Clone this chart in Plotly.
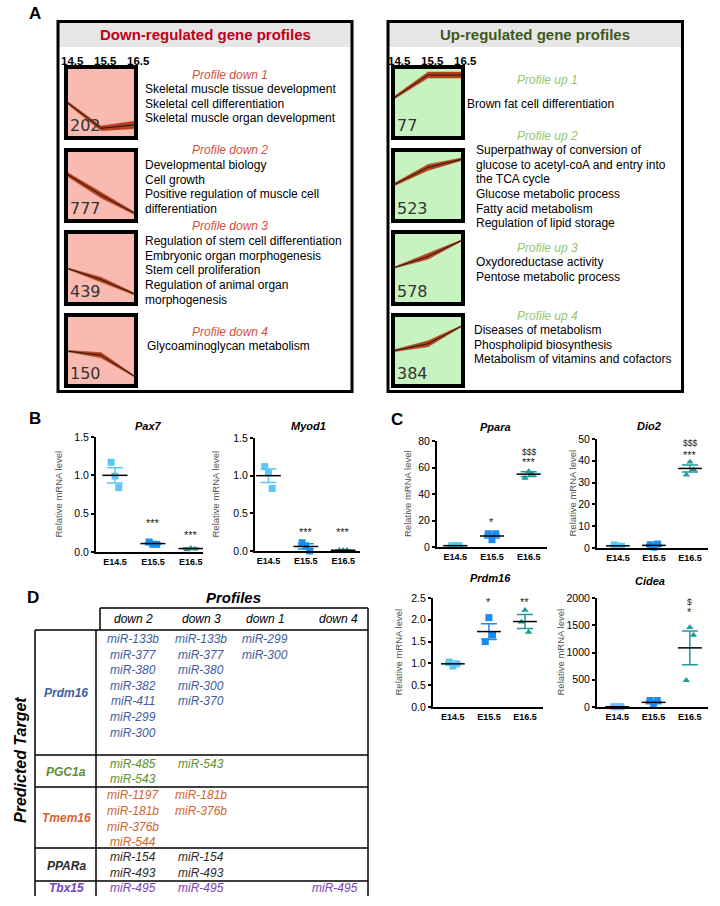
import plotly.graph_objects as go

W, H = 720, 906
FONT = "Liberation Sans, Arial, sans-serif"

# ================= DATA =================
# ---- Panel A : gene expression profiles (normalised 0..1 inside each mini plot)
time_points = [14.5, 15.5, 16.5]
time_labels = ["14.5", "15.5", "16.5"]

down_names = ["Profile down 1", "Profile down 2", "Profile down 3", "Profile down 4"]
down_counts = [202, 777, 439, 150]
down_mean_1 = [0.49, 0.115, 0.165]
down_mean_2 = [0.66, 0.36, 0.09]
down_mean_3 = [0.49, 0.33, 0.12]
down_mean_4 = [0.49, 0.43, 0.12]
down_spread_1 = [0.02, 0.035, 0.055]
down_spread_2 = [0.03, 0.045, 0.02]
down_spread_3 = [0.01, 0.035, 0.015]
down_spread_4 = [0.01, 0.04, 0.01]
down_terms_1 = ["Skeletal muscle tissue development", "Skeletal cell differentiation",
                "Skeletal muscle organ development"]
down_terms_2 = ["Developmental biology", "Cell growth", "Positive regulation of muscle cell",
                "differentiation"]
down_terms_3 = ["Regulation of stem cell differentiation", "Embryonic organ morphogenesis",
                "Stem cell proliferation", "Regulation of animal organ", "morphogenesis"]
down_terms_4 = ["Glycoaminoglycan metabolism"]

up_names = ["Profile up 1", "Profile up 2", "Profile up 3", "Profile up 4"]
up_counts = [77, 523, 578, 384]
up_mean_1 = [0.58, 0.91, 0.91]
up_mean_2 = [0.52, 0.77, 0.89]
up_mean_3 = [0.51, 0.67, 0.90]
up_mean_4 = [0.50, 0.60, 0.86]
up_spread_1 = [0.02, 0.045, 0.045]
up_spread_2 = [0.02, 0.045, 0.02]
up_spread_3 = [0.01, 0.04, 0.01]
up_spread_4 = [0.015, 0.045, 0.01]
up_terms_1 = ["Brown fat cell differentiation"]
up_terms_2 = ["Superpathway of conversion of", "glucose to acetyl-coA and entry into",
              "the TCA cycle", "Glucose metabolic process", "Fatty acid metabolism",
              "Regulation of lipid storage"]
up_terms_3 = ["Oxydoreductase activity", "Pentose metabolic process"]
up_terms_4 = ["Diseases of metabolism", "Phospholipid biosynthesis",
              "Metabolism of vitamins and cofactors"]

# ---- Panels B / C : qPCR dot plots
stages = ["E14.5", "E15.5", "E16.5"]

pax7_points = [[1.17, 0.99, 0.84], [0.13, 0.10, 0.10], [0.03, 0.05, 0.04]]
pax7_mean = [1.00, 0.11, 0.045]
pax7_sem = [0.10, 0.012, 0.006]
pax7_marks = [[], [("***", 0.38)], [("***", 0.22)]]

myod1_points = [[1.12, 1.04, 0.83], [0.11, 0.07, 0.0], [0.01, 0.01, 0.01]]
myod1_mean = [1.00, 0.06, 0.01]
myod1_sem = [0.09, 0.035, 0.002]
myod1_marks = [[], [("***", 0.25)], [("***", 0.25)]]

ppara_points = [[1.0, 1.0, 1.0], [10.0, 5.5, 10.0], [52.0, 57.0, 55.0]]
ppara_mean = [1.0, 8.3, 55.0]
ppara_sem = [0.1, 1.5, 1.8]
ppara_marks = [[], [("*", 19)], [("***", 64), ("$$$", 72)]]

dio2_points = [[1.4, 0.8, 0.8], [1.5, 0.4, 1.8], [33.5, 39.5, 36.0]]
dio2_mean = [1.0, 1.2, 36.5]
dio2_sem = [0.2, 0.4, 1.6]
dio2_marks = [[], [], [("***", 42.5), ("$$$", 48.2)]]

prdm16_points = [[1.03, 0.94, 0.99], [1.50, 2.05, 1.65], [1.95, 2.22, 1.72]]
prdm16_mean = [0.99, 1.73, 1.96]
prdm16_sem = [0.03, 0.18, 0.16]
prdm16_marks = [[], [("*", 2.41)], [("**", 2.41)]]

cidea_points = [[5, 5, 5], [120, 30, 120], [490, 1460, 1320]]
cidea_mean = [5, 85, 1085]
cidea_sem = [1, 25, 310]
cidea_marks = [[], [], [("*", 1745), ("$", 1930)]]

# ---- Panel D : predicted targets table
table_columns = ["down 2", "down 3", "down 1", "down 4"]
table_targets = ["Prdm16", "PGC1a", "Tmem16", "PPARa", "Tbx15"]
mirs_prdm16 = [["miR-133b", "miR-377", "miR-380", "miR-382", "miR-411", "miR-299", "miR-300"],
               ["miR-133b", "miR-377", "miR-380", "miR-300", "miR-370"],
               ["miR-299", "miR-300"], []]
mirs_pgc1a = [["miR-485", "miR-543"], ["miR-543"], [], []]
mirs_tmem16 = [["miR-1197", "miR-181b", "miR-376b", "miR-544"], ["miR-181b", "miR-376b"], [], []]
mirs_ppara = [["miR-154", "miR-493"], ["miR-154", "miR-493"], [], []]
mirs_tbx15 = [["miR-495"], ["miR-495"], [], ["miR-495"]]

# ================= STYLE / LAYOUT =================
DOWN_TITLE_COLOR = "#c0001c"
UP_TITLE_COLOR = "#3d5a21"
DOWN_PROF_COLOR = "#d4503e"
UP_PROF_COLOR = "#93c56e"
PINK = "#f9bab2"
GREEN = "#c7f3c0"
BAND = "#b5401a"
STAGE_COLORS = ["#5cc7f4", "#1a8cf0", "#1e9b98"]
STAGE_SYMBOLS = ["square", "square", "triangle-up"]
TARGET_COLORS = ["#3f5d9e", "#5e8f30", "#d6622c", "#2b2b2b", "#7a40bd"]

fig = go.Figure()


def X(x):
    return x / W


def Y(y):
    return 1 - y / H


def font(size, color="black", bold=False, italic=False, family=FONT):
    return dict(size=size, color=color, family=family,
                weight="bold" if bold else "normal",
                style="italic" if italic else "normal")


def ann(x, y, text, size=12, color="black", bold=False, italic=False,
        xanchor="center", yanchor="middle", angle=0, family=FONT):
    fig.add_annotation(x=X(x), y=Y(y), xref="paper", yref="paper", text=text,
                       showarrow=False, xanchor=xanchor, yanchor=yanchor,
                       textangle=angle, borderpad=0,
                       font=font(size, color, bold, italic, family))


def line(x0, y0, x1, y1, width=1.5, color="black"):
    fig.add_shape(type="line", xref="paper", yref="paper", x0=X(x0), y0=Y(y0),
                  x1=X(x1), y1=Y(y1), line=dict(color=color, width=width))


axis_n = [0]


def add_axes(x0, x1, ytop, ybot, xr, yr, xopts, yopts):
    axis_n[0] += 1
    n = axis_n[0]
    s = "" if n == 1 else str(n)
    xa = dict(domain=[X(x0), X(x1)], range=xr, anchor="y" + s, fixedrange=True,
              showgrid=False, zeroline=False, automargin=False)
    ya = dict(domain=[Y(ybot), Y(ytop)], range=yr, anchor="x" + s, fixedrange=True,
              showgrid=False, zeroline=False, automargin=False)
    xa.update(xopts)
    ya.update(yopts)
    fig.update_layout(**{"xaxis" + s: xa, "yaxis" + s: ya})
    return "x" + s, "y" + s


# ================= PANEL A =================
ann(35, 14, "A", size=17, bold=True)

for (bx0, bx1), title, tcol in [((58, 352), "Down-regulated gene profiles", DOWN_TITLE_COLOR),
                               ((388, 682.5), "Up-regulated gene profiles", UP_TITLE_COLOR)]:
    fig.add_shape(type="rect", xref="paper", yref="paper", x0=X(bx0), x1=X(bx1),
                  y0=Y(47), y1=Y(22), fillcolor="#e6e6e6", line_width=0, layer="below")
    fig.add_shape(type="rect", xref="paper", yref="paper", x0=X(bx0), x1=X(bx1),
                  y0=Y(391.5), y1=Y(21.5), line=dict(color="black", width=3))
    ann((bx0 + bx1) / 2, 34.5, title, size=15, color=tcol, bold=True)

box_rows = [(65, 140), (148, 223), (230, 306), (313, 388)]
BORDER = 4
LINE_STEP = 14.7

down_means = [down_mean_1, down_mean_2, down_mean_3, down_mean_4]
down_spreads = [down_spread_1, down_spread_2, down_spread_3, down_spread_4]
down_terms = [down_terms_1, down_terms_2, down_terms_3, down_terms_4]
up_means = [up_mean_1, up_mean_2, up_mean_3, up_mean_4]
up_spreads = [up_spread_1, up_spread_2, up_spread_3, up_spread_4]
up_terms = [up_terms_1, up_terms_2, up_terms_3, up_terms_4]

mini_axis_opts = dict(showline=True, linewidth=BORDER, linecolor="black", mirror=True,
                      showticklabels=False, ticks="")


def mini_plot(xo0, xo1, yo0, yo1, mean, spread, count, bg, count_x):
    xr, yr = add_axes(xo0 + BORDER, xo1 - BORDER, yo0 + BORDER, yo1 - BORDER,
                      [time_points[0], time_points[-1]], [0, 1],
                      dict(mini_axis_opts), dict(mini_axis_opts))
    fig.add_shape(type="rect", xref=xr + " domain", yref=yr + " domain", x0=0, x1=1,
                  y0=0, y1=1, fillcolor=bg, line_width=0, layer="below")
    lower = [m - s for m, s in zip(mean, spread)]
    upper = [m + s for m, s in zip(mean, spread)]
    fig.add_trace(go.Scatter(x=time_points, y=lower, mode="lines",
                             line=dict(width=0.5, color=BAND), xaxis=xr, yaxis=yr,
                             hoverinfo="skip", showlegend=False))
    fig.add_trace(go.Scatter(x=time_points, y=upper, mode="lines", fill="tonexty",
                             fillcolor=BAND, line=dict(width=0.5, color=BAND), xaxis=xr,
                             yaxis=yr, hoverinfo="skip", showlegend=False))
    fig.add_trace(go.Scatter(x=time_points, y=mean, mode="lines",
                             line=dict(width=1, color="#1a1a1a"), xaxis=xr, yaxis=yr,
                             hoverinfo="skip", showlegend=False))
    ann(count_x, yo1 - 15, str(count), size=16, color="#333333", xanchor="left",
        family="DejaVu Sans, sans-serif")


for left, right in [(64, 138), (391, 465)]:
    for i, lab in enumerate(time_labels):
        xx = left + 8 + (right - left - 8) * i / (len(time_labels) - 1)
        ann(xx, 61, lab, size=11.5, bold=True)

down_title_y = [75, 150, 226, 332]
down_term_y0 = [89, 165, 241, 346]
up_title_y = [80, 136, 248, 316]
up_term_y0 = [104, 150, 262, 330]
down_term_x = [144, 144, 144, 146]
up_term_x = [466, 475, 475, 473]

for i in range(4):
    yo0, yo1 = box_rows[i]
    mini_plot(64, 138, yo0, yo1, down_means[i], down_spreads[i], down_counts[i], PINK, 69)
    ann(230, down_title_y[i], down_names[i], size=12, color=DOWN_PROF_COLOR, italic=True)
    for k, t in enumerate(down_terms[i]):
        ann(down_term_x[i], down_term_y0[i] + k * LINE_STEP, t, size=12, xanchor="left")

    mini_plot(391, 465, yo0, yo1, up_means[i], up_spreads[i], up_counts[i], GREEN, 396)
    ann(547, up_title_y[i], up_names[i], size=12, color=UP_PROF_COLOR, italic=True)
    for k, t in enumerate(up_terms[i]):
        ann(up_term_x[i], up_term_y0[i] + k * LINE_STEP, t, size=12, xanchor="left")

# ================= PANELS B / C =================
ann(35, 418, "B", size=17, bold=True)
ann(397, 420, "C", size=17, bold=True)

JITTER = [-0.1, 0.0, 0.1]


def dot_chart(title, xl, xrt, ytop, ybot, xrange, yrange, dtick, tfmt,
              points, means, sems, marks, title_xy, ylab_x):
    xa, ya = add_axes(xl, xrt, ytop, ybot, xrange, yrange,
                      dict(showline=True, linewidth=2, linecolor="black", ticks="",
                           tickvals=list(range(len(stages))), ticktext=stages,
                           tickfont=font(9, bold=True)),
                      dict(showline=True, linewidth=2, linecolor="black", ticks="outside",
                           ticklen=3, tickwidth=1.5, tickcolor="black", dtick=dtick,
                           tick0=0, tickformat=tfmt, tickfont=font(10.5)))
    for i, pts in enumerate(points):
        fig.add_trace(go.Scatter(x=[i + j for j in JITTER[:len(pts)]], y=pts, mode="markers",
                                 marker=dict(symbol=STAGE_SYMBOLS[i], size=7 if i < 2 else 6.5,
                                             color=STAGE_COLORS[i]),
                                 cliponaxis=False, xaxis=xa, yaxis=ya, showlegend=False,
                                 hoverinfo="skip"))
    for i in range(len(stages)):
        fig.add_trace(go.Scatter(x=[i], y=[means[i]], mode="markers",
                                 marker=dict(size=1, color="rgba(0,0,0,0)"),
                                 error_y=dict(type="data", array=[sems[i]], color=STAGE_COLORS[i],
                                              thickness=1.5, width=8),
                                 cliponaxis=False, xaxis=xa, yaxis=ya, showlegend=False,
                                 hoverinfo="skip"))
    mx, my = [], []
    for i, m in enumerate(means):
        mx += [i - 0.33, i + 0.33, None]
        my += [m, m, None]
    fig.add_trace(go.Scatter(x=mx, y=my, mode="lines", line=dict(color="black", width=1.5),
                             cliponaxis=False, xaxis=xa, yaxis=ya, showlegend=False,
                             hoverinfo="skip"))
    for i, mk in enumerate(marks):
        for txt, yv in mk:
            fig.add_annotation(x=i, y=yv, xref=xa, yref=ya, text=txt, showarrow=False,
                               font=font(8.5 if "$" in txt else 11, "#222222"),
                               yanchor="middle", borderpad=0)
    ann(title_xy[0], title_xy[1], title, size=11, bold=True, italic=True)
    ann(ylab_x, (ytop + ybot) / 2, "Relative mRNA level", size=9.5, color="#555555", angle=-90)


dot_chart("Pax7", 96, 203, 437, 552, [-0.5, 2.32], [0, 1.5], 0.5, ".1f",
          pax7_points, pax7_mean, pax7_sem, pax7_marks, (148, 426), 58)
dot_chart("Myod1", 255, 360, 438, 551, [-0.36, 2.45], [0, 1.5], 0.5, ".1f",
          myod1_points, myod1_mean, myod1_sem, myod1_marks, (308, 426), 215)
dot_chart("Ppara", 437, 547, 441, 547, [-0.5, 2.5], [0, 80], 20, "d",
          ppara_points, ppara_mean, ppara_sem, ppara_marks, (495, 427), 407)
dot_chart("Dio2", 597, 708, 439, 548, [-0.58, 2.5], [0, 50], 10, "d",
          dio2_points, dio2_mean, dio2_sem, dio2_marks, (649, 426), 572)
dot_chart("Prdm16", 433, 543, 598, 707, [-0.55, 2.5], [0, 2.5], 0.5, ".1f",
          prdm16_points, prdm16_mean, prdm16_sem, prdm16_marks, (490, 578), 398)
dot_chart("Cidea", 597, 708, 598, 707, [-0.56, 2.5], [0, 2000], 500, "d",
          cidea_points, cidea_mean, cidea_sem, cidea_marks, (650, 581), 560)

# ================= PANEL D =================
ann(33, 597, "D", size=17, bold=True)
ann(233, 597, "Profiles", size=15, bold=True, italic=True)
ann(20, 760, "Predicted Target", size=16, bold=True, italic=True, angle=-90)

line(100, 608, 368, 608)
line(100, 608, 100, 630)
line(35, 630, 368, 630)
line(368, 608, 368, 896)
line(35, 630, 35, 896)
line(96, 630, 96, 896)
for yy in [755, 787, 848, 881]:
    line(35, yy, 368, yy)

col_x = [133, 201, 265, 335]
header_x = [133, 201, 265, 338]
for cx, name in zip(header_x, table_columns):
    ann(cx, 619, name, size=12, italic=True)

row_label_y = [693, 772, 818, 866, 888]
row_first_y = [639, 764, 795, 857, 888]
row_step = [15.6, 15.0, 15.8, 16.0, 15.6]
row_mirs = [mirs_prdm16, mirs_pgc1a, mirs_tmem16, mirs_ppara, mirs_tbx15]
for r, target in enumerate(table_targets):
    ann(66, row_label_y[r], target, size=12, bold=True, italic=True, color=TARGET_COLORS[r])
    for c, mlist in enumerate(row_mirs[r]):
        for k, m in enumerate(mlist):
            ann(col_x[c], row_first_y[r] + k * row_step[r], m, size=12, italic=True,
                color=TARGET_COLORS[r])

fig.update_layout(width=W, height=H, margin=dict(l=0, r=0, t=0, b=0, pad=0),
                  paper_bgcolor="white", plot_bgcolor="rgba(0,0,0,0)",
                  showlegend=False, font=dict(family=FONT))

fig.write_html("out.html", config={"displayModeBar": False},
               post_script="document.body.style.margin='0';document.body.style.padding='0';")
